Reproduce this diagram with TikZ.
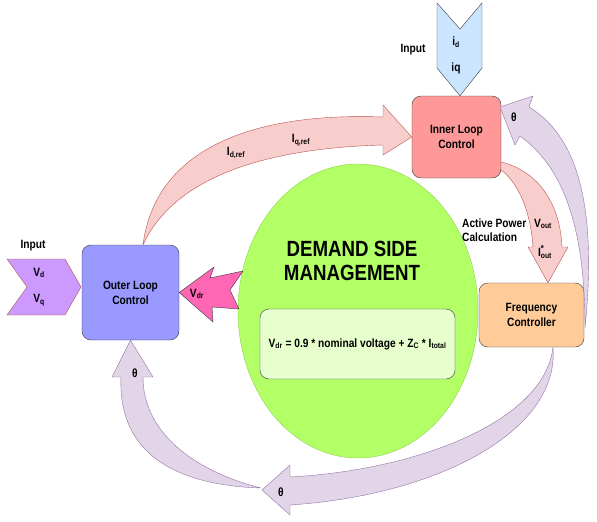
\documentclass[tikz,border=0pt]{standalone}
\usepackage{fontspec}
\setmainfont{Liberation Sans}[FakeStretch=0.85]
\usetikzlibrary{shapes,arrows}
\usetikzlibrary{calc}

\definecolor{boxline}{HTML}{36393D}
\definecolor{outerfill}{HTML}{9999FF}
\definecolor{innerfill}{HTML}{FF9999}
\definecolor{freqfill}{HTML}{FFCC99}
\definecolor{dsmfill}{HTML}{B3FF66}
\definecolor{dsmline}{HTML}{8FD14F}
\definecolor{eqfill}{HTML}{E6FFCC}
\definecolor{pinkfill}{HTML}{F8CECC}
\definecolor{pinkline}{HTML}{B85450}
\definecolor{lilacfill}{HTML}{E1D5E7}
\definecolor{lilacline}{HTML}{9673A6}
\definecolor{vinfill}{HTML}{CC99FF}
\definecolor{iinfill}{HTML}{CCE5FF}
\definecolor{vdrfill}{HTML}{FF66B3}

\tikzset{
  block/.style={draw=boxline, rounded corners=9pt, align=center, inner sep=0pt,
    font=\bfseries\fontsize{12}{15}\selectfont},
  pinkarrow/.style={draw=pinkline, fill=pinkfill},
  lilacarrow/.style={draw=lilacline, fill=lilacfill},
  lbl/.style={inner sep=0pt, font=\bfseries\fontsize{12}{14}\selectfont},
}

\begin{document}
\begin{tikzpicture}[x=1pt, y=-1pt]
\useasboundingbox (0,0) rectangle (597,522);

% demand side management
\node[ellipse, draw=dsmline, fill=dsmfill, minimum width=240pt, minimum height=294pt, inner sep=0pt] (dsm) at (358,311) {};
\node[lbl, align=center, font=\bfseries\fontsize{22}{24}\selectfont] (dsmtext) at (352,261) {DEMAND SIDE\\MANAGEMENT};
\node[block, fill=eqfill, minimum width=195pt, minimum height=70pt] (formula) at (357.5,344)
  {V\textsubscript{dr} = 0.9 * nominal voltage + Z\textsubscript{C} * I\textsubscript{total}};

% control boxes
\node[block, fill=outerfill, minimum width=97pt, minimum height=95pt] (outer) at (130.5,292.5) {Outer Loop\\Control};
\node[block, fill=innerfill, minimum width=89pt, minimum height=82pt] (inner) at (456.5,137) {Inner Loop\\Control};
\node[block, fill=freqfill, minimum width=105pt, minimum height=64pt] (freq) at (531.5,315) {Frequency\\Controller};

% inputs
\draw[draw=pinkline, fill=vinfill] (7,259) -- (65,259) -- (81,287) -- (65,315) -- (7,315) -- (27,287) -- cycle;
\node[lbl] (inL) at (33,246) {Input};
\node[lbl] (vd) at (39,273) {V\textsubscript{d}};
\node[lbl] (vq) at (39,300) {V\textsubscript{q}};

\draw[draw=boxline, fill=iinfill] (437,3) -- (460,29) -- (482,3) -- (482,68) -- (inner.north -| 460,0) -- (437,68) -- cycle;
\node[lbl] (inT) at (413,50) {Input};
\node[lbl] (id) at (456,42) {i\textsubscript{d}};
\node[lbl] (iq) at (456,68) {iq};

% v_dr
\draw[draw=boxline, fill=vdrfill] (outer.east) -- (214,267) -- (210,278) -- (243,271) -- (230,290)
  -- (239,309) -- (212,307) -- (213,322) -- cycle;
\node[lbl] (vdr) at (197,294) {V\textsubscript{dr}};

% current references
\draw[pinkarrow] (143,245) .. controls (155,150) and (250,112) .. (383,117) -- (383,105)
  -- (inner.west) -- (383,155) -- (383,145) .. controls (270,148) and (175,175) .. (143,245);
\node[lbl] (idref) at (236,153) {I\textsubscript{d,ref}};
\node[lbl] (iqref) at (301,140) {I\textsubscript{q,ref}};

% active power
\draw[pinkarrow] (501,162) .. controls (535,170) and (560,200) .. (562,247) -- (568,247)
  -- ($(freq.north)+(16.5,0)$) -- (528,247) -- (533,247) .. controls (530,205) and (515,180) .. (501,170) -- cycle;
\node[lbl, align=left, anchor=west] (apc) at (462,230) {Active Power\\Calculation};
\node[lbl] (vout) at (543,224) {V\textsubscript{out}};
\node[lbl] (iout) at (545,252) {I\rlap{\raisebox{5pt}{\fontsize{9}{9}\selectfont *}}\textsubscript{out}};

% theta feedback
\draw[lilacarrow] (585,328) .. controls (598,200) and (575,135) .. (529,107) -- (533,96)
  -- (500,107) -- (515,145) -- (520,136) .. controls (560,165) and (585,220) .. (585,328);
\node[lbl] (th1) at (514,117) {θ};

\draw[lilacarrow] ($(freq.south)+(21.5,0)$) .. controls (545,420) and (420,470) .. (290,477) -- (290,465)
  -- (262,490) -- (290,515) -- (290,505) .. controls (440,495) and (560,430) .. ($(freq.south)+(21.5,0)$);
\node[lbl] (th2) at (281,492) {θ};

\draw[lilacarrow] (261,488) .. controls (190,470) and (143,430) .. (143,377) -- (153,377)
  -- (outer.south) -- (112,377) -- (121,377) .. controls (118,450) and (170,485) .. (261,488);
\node[lbl] (th3) at (135,373) {θ};
\end{tikzpicture}
\end{document}
